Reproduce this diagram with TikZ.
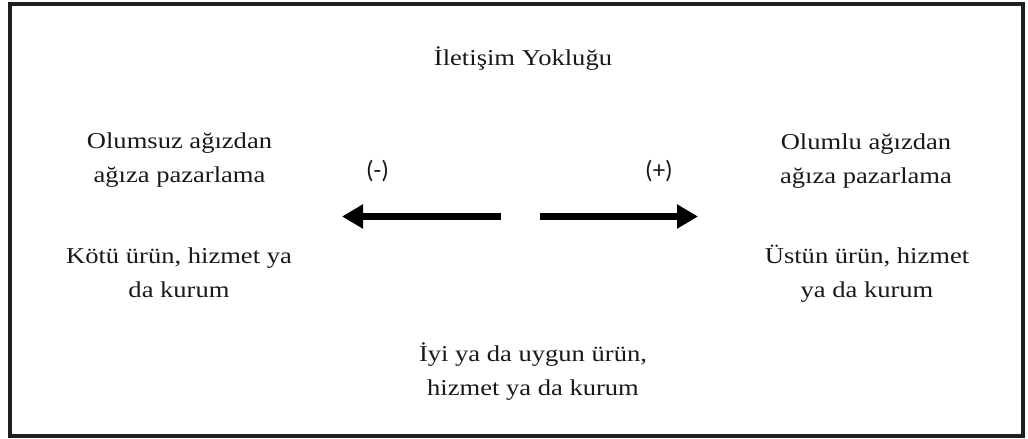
\documentclass[tikz,border=0pt]{standalone}
\usepackage{fontspec}
\setmainfont{Liberation Serif}[FakeStretch=1.17]
\newfontfamily\signfont{Carlito}
\usetikzlibrary{arrows.meta}
\tikzset{
  txt/.style={font=\fontsize{22.7}{34}\selectfont, align=center, inner sep=0pt, anchor=base, text=black!90},
  sign/.style={font=\signfont\fontsize{25}{28}\selectfont, inner sep=0pt, anchor=center, text=black!90},
  bigarrow/.style={line width=7pt, -{Triangle[length=21pt,width=23pt]}},
  frame/.style={line width=4pt, draw=black!88}
}
\begin{document}
\begin{tikzpicture}[x=1pt,y=-1pt]
\useasboundingbox (0,0) rectangle (1028,439);
\draw[frame] (10,3.5) rectangle (1023,436);
\node[txt] (title) at (523,65) {İletişim Yokluğu};
\node[txt] (negwom) at (179.5,182) {Olumsuz ağızdan\\ağıza pazarlama};
\node[txt] (bad) at (179,297) {Kötü ürün, hizmet ya\\da kurum};
\node[txt] (poswom) at (866,183) {Olumlu ağızdan\\ağıza pazarlama};
\node[txt] (good) at (867,297) {Üstün ürün, hizmet\\ya da kurum};
\node[txt] (fine) at (533,395) {İyi ya da uygun ürün,\\hizmet ya da kurum};
\node[sign] (minus) at (377.5,171) {(-)};
\node[sign] (plus) at (659,171) {(+)};
\coordinate (lstart) at (501,216.5);
\coordinate (lend) at (342,216.5);
\coordinate (rstart) at (540,216.5);
\coordinate (rend) at (698,216.5);
\draw[bigarrow] (lstart) -- (lend);
\draw[bigarrow] (rstart) -- (rend);
\end{tikzpicture}
\end{document}
